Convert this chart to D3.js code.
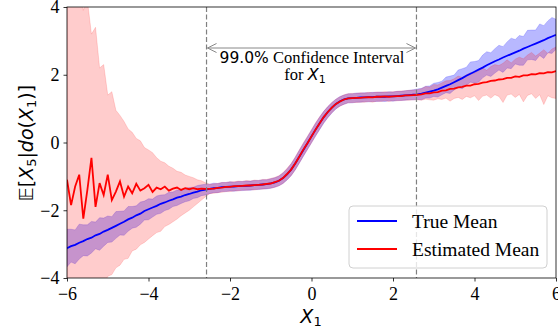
<!DOCTYPE html>
<html><head><meta charset="utf-8">
<script src="https://cdn.jsdelivr.net/npm/d3@7"></script>
<style>body{margin:0;background:#fff}svg{display:block}</style>
</head><body>
<svg id="c" width="558" height="330"></svg>
<script>
const xs = [-6.0,-5.9,-5.8,-5.7,-5.6,-5.5,-5.4,-5.3,-5.2,-5.1,-5.0,-4.9,-4.8,-4.7,-4.6,-4.5,-4.4,-4.3,-4.2,-4.1,-4.0,-3.9,-3.8,-3.7,-3.6,-3.5,-3.4,-3.3,-3.2,-3.1,-3.0,-2.9,-2.8,-2.7,-2.6,
-2.5,-2.4,-2.3,-2.2,-2.1,-2.0,-1.9,-1.8,-1.7,-1.6,-1.5,-1.4,-1.3,-1.2,-1.1,-1.0,-0.9,-0.8,-0.7,-0.6,-0.5,-0.4,-0.3,-0.2,-0.1,0.0,0.1,0.2,0.3,0.4,0.5,0.6,0.7,0.8,0.9,1.0,1.1,1.2,1.3,1.4,1.5,1.6,1.7,1.8,1.9,2.0,2.1,2.2,2.3,2.4,2.5,
2.6,2.7,2.8,2.9,3.0,3.1,3.2,3.3,3.4,3.5,3.6,3.7,3.8,3.9,4.0,4.1,4.2,4.3,4.4,4.5,4.6,4.7,4.8,4.9,5.0,5.1,5.2,5.3,5.4,5.5,5.6,5.7,5.8,5.9,6.0];

const trueMean = [-3.12,-3.06,-3.02,-2.96,-2.91,-2.85,-2.81,-2.74,-2.70,-2.63,-2.58,-2.52,-2.46,-2.40,-2.34,-2.27,-2.22,-2.15,-2.10,-2.02,-1.97,-1.92,-1.87,-1.81,-1.77,-1.72,-1.68,-1.63,-1.60,-1.55,-1.52,-1.48,-1.45,-1.41,-1.39,
-1.37,-1.35,-1.34,-1.32,-1.31,-1.30,-1.30,-1.29,-1.28,-1.28,-1.27,-1.26,-1.25,-1.24,-1.23,-1.21,-1.18,-1.13,-1.05,-0.94,-0.80,-0.62,-0.42,-0.22,-0.02,0.18,0.38,0.57,0.75,0.90,1.03,1.14,1.22,1.27,1.30,1.31,1.32,1.33,1.33,1.34,1.34,1.35,1.35,1.35,1.36,1.36,1.37,1.38,1.39,1.40,1.41,
1.42,1.44,1.47,1.50,1.53,1.57,1.62,1.67,1.72,1.78,1.84,1.90,1.97,2.03,2.09,2.15,2.21,2.28,2.34,2.40,2.45,2.51,2.56,2.61,2.66,2.71,2.77,2.82,2.87,2.92,2.97,3.02,3.08,3.13,3.18];

const trueHi = [-2.56,-2.56,-2.58,-2.41,-2.43,-2.43,-2.33,-2.35,-2.22,-2.23,-2.17,-2.19,-2.04,-2.03,-2.02,-1.89,-1.89,-1.87,-1.76,-1.73,-1.66,-1.67,-1.58,-1.55,-1.54,-1.47,-1.46,-1.40,-1.41,-1.35,-1.33,-1.32,-1.27,-1.25,-1.23,
-1.23,-1.20,-1.21,-1.18,-1.18,-1.16,-1.17,-1.15,-1.15,-1.14,-1.14,-1.12,-1.12,-1.10,-1.10,-1.07,-1.04,-0.99,-0.90,-0.78,-0.63,-0.44,-0.23,-0.03,0.17,0.37,0.57,0.75,0.92,1.06,1.18,1.28,1.36,1.40,1.44,1.44,1.46,1.46,1.47,1.47,1.48,1.48,1.49,1.48,1.50,1.49,1.51,1.51,1.53,1.54,1.56,
1.58,1.60,1.66,1.67,1.75,1.77,1.81,1.93,1.96,1.99,2.14,2.18,2.22,2.38,2.39,2.42,2.58,2.68,2.65,2.77,2.87,2.83,2.97,3.08,3.04,3.16,3.13,3.31,3.32,3.32,3.50,3.45,3.59,3.69,3.64];

const trueLo = [-3.67,-3.53,-3.58,-3.44,-3.34,-3.35,-3.26,-3.14,-3.18,-3.06,-2.95,-2.94,-2.83,-2.73,-2.74,-2.62,-2.53,-2.50,-2.41,-2.29,-2.28,-2.20,-2.12,-2.09,-2.01,-1.97,-1.89,-1.86,-1.80,-1.75,-1.72,-1.65,-1.63,-1.57,-1.55,
-1.51,-1.48,-1.48,-1.45,-1.45,-1.43,-1.44,-1.42,-1.42,-1.41,-1.41,-1.39,-1.39,-1.37,-1.37,-1.35,-1.32,-1.28,-1.21,-1.11,-0.98,-0.81,-0.61,-0.41,-0.21,-0.01,0.19,0.38,0.57,0.73,0.87,0.99,1.08,1.13,1.17,1.17,1.19,1.19,1.20,1.20,1.21,1.21,1.22,1.21,1.23,1.22,1.24,1.24,1.25,1.26,1.26,
1.27,1.26,1.31,1.31,1.36,1.34,1.41,1.47,1.45,1.55,1.62,1.59,1.69,1.78,1.76,1.78,1.91,1.99,1.95,2.05,2.14,2.07,2.20,2.18,2.32,2.28,2.28,2.44,2.45,2.42,2.57,2.48,2.65,2.63,2.75];

const estMean = [-1.10,-1.85,-1.30,-0.95,-2.25,-1.40,-0.45,-1.90,-1.20,-1.55,-0.95,-1.70,-1.45,-1.15,-1.60,-1.30,-1.50,-1.22,-1.42,-1.35,-1.25,-1.46,-1.33,-1.38,-1.30,-1.42,-1.36,-1.33,-1.40,-1.35,-1.38,-1.35,-1.38,-1.36,-1.37,
-1.37,-1.36,-1.34,-1.33,-1.31,-1.31,-1.29,-1.29,-1.28,-1.27,-1.27,-1.26,-1.25,-1.24,-1.22,-1.21,-1.17,-1.13,-1.05,-0.93,-0.80,-0.62,-0.42,-0.21,-0.02,0.18,0.38,0.57,0.75,0.90,1.03,1.14,1.21,1.27,1.30,1.31,1.32,1.32,1.33,1.34,1.33,1.35,1.35,1.36,1.35,1.36,1.37,1.37,1.39,1.39,1.40,
1.41,1.42,1.45,1.45,1.48,1.49,1.53,1.54,1.58,1.59,1.63,1.64,1.68,1.68,1.72,1.73,1.77,1.78,1.82,1.83,1.86,1.87,1.91,1.91,1.95,1.94,1.98,1.98,2.02,2.01,2.05,2.04,2.08,2.07,2.11];

const estHi = [6.0,5.3,4.4,5.4,3.9,4.2,3.2,3.4,2.2,2.3,1.4,1.5,0.95,0.80,0.62,0.40,0.30,0.12,0.05,-0.15,-0.22,-0.30,-0.45,-0.55,-0.60,-0.70,-0.76,-0.85,-0.88,-0.96,-1.00,-1.04,-1.10,-1.13,-1.19,
-1.23,-1.22,-1.21,-1.18,-1.18,-1.16,-1.16,-1.14,-1.15,-1.12,-1.14,-1.11,-1.12,-1.09,-1.09,-1.06,-1.03,-0.98,-0.89,-0.76,-0.62,-0.43,-0.22,-0.01,0.18,0.38,0.58,0.76,0.92,1.06,1.18,1.28,1.35,1.41,1.44,1.45,1.45,1.47,1.46,1.48,1.47,1.49,1.48,1.50,1.49,1.50,1.51,1.52,1.53,1.54,1.55,
1.56,1.59,1.65,1.64,1.71,1.70,1.76,1.82,1.83,1.88,1.96,1.92,2.00,2.06,2.05,2.12,2.20,2.13,2.24,2.30,2.27,2.34,2.44,2.35,2.46,2.52,2.47,2.58,2.66,2.55,2.64,2.74,2.63,2.76,2.82];

const estLo = [-5.8,-5.3,-5.7,-4.9,-5.3,-4.7,-4.6,-4.5,-4.2,-4.25,-3.95,-3.9,-3.7,-3.62,-3.45,-3.42,-3.2,-3.15,-3.02,-2.95,-2.85,-2.75,-2.66,-2.62,-2.48,-2.42,-2.34,-2.26,-2.16,-2.08,-2.0,-1.9,-1.8,-1.7,-1.6,
-1.51,-1.50,-1.48,-1.47,-1.45,-1.45,-1.43,-1.43,-1.41,-1.41,-1.40,-1.40,-1.38,-1.38,-1.36,-1.35,-1.32,-1.28,-1.21,-1.10,-0.98,-0.81,-0.61,-0.40,-0.21,-0.01,0.19,0.39,0.58,0.74,0.88,1.00,1.07,1.13,1.17,1.18,1.18,1.19,1.19,1.21,1.19,1.22,1.21,1.23,1.21,1.23,1.23,1.24,1.25,1.25,1.26,
1.26,1.25,1.28,1.26,1.25,1.29,1.27,1.31,1.22,1.30,1.33,1.27,1.36,1.32,1.38,1.24,1.37,1.40,1.31,1.41,1.36,1.18,1.40,1.43,1.33,1.42,1.20,1.39,1.44,1.30,1.41,1.12,1.38,1.32,1.30];

const xTicks = [-6,-4,-2,0,2,4,6];
const yTicks = [-4,-2,0,2,4];
const ciBounds = [-2.576, 2.576];
const legendLabels = ["True Mean","Estimated Mean"];

const svg = d3.select("#c");
const L=67, R=556, T=7, B=278;
const x = d3.scaleLinear().domain([-6,6]).range([L,R]);
const y = d3.scaleLinear().domain([-4,4]).range([B,T]);

const defs = svg.append("defs");
defs.append("clipPath").attr("id","clip")
  .append("rect").attr("x",L).attr("y",T).attr("width",R-L).attr("height",B-T);

const data = xs.map((v,i)=>({x:v,tm:trueMean[i],th:trueHi[i],tl:trueLo[i],em:estMean[i],eh:estHi[i],el:estLo[i]}));
const g = svg.append("g").attr("clip-path","url(#clip)");

const areaT = d3.area().x(d=>x(d.x)).y0(d=>y(d.tl)).y1(d=>y(d.th));
const areaE = d3.area().x(d=>x(d.x)).y0(d=>y(d.el)).y1(d=>y(d.eh));
g.append("path").datum(data).attr("d",areaT).attr("fill","rgba(0,0,255,0.28)").attr("stroke","rgba(0,0,255,0.22)").attr("stroke-width",0.8);
g.append("path").datum(data).attr("d",areaE).attr("fill","rgba(255,0,0,0.2)").attr("stroke","rgba(255,0,0,0.18)").attr("stroke-width",0.8);

g.append("path").datum(data).attr("d",d3.line().x(d=>x(d.x)).y(d=>y(d.tm)))
  .attr("fill","none").attr("stroke","#0000ff").attr("stroke-width",1.8);
g.append("path").datum(data).attr("d",d3.line().x(d=>x(d.x)).y(d=>y(d.em)))
  .attr("fill","none").attr("stroke","#ff0000").attr("stroke-width",1.8);

ciBounds.forEach(b=>{
  svg.append("line").attr("x1",x(b)).attr("x2",x(b)).attr("y1",T).attr("y2",B)
    .attr("stroke","#808080").attr("stroke-width",1.2).attr("stroke-dasharray","5,2.5");
});

svg.append("rect").attr("x",L).attr("y",T).attr("width",R-L).attr("height",B-T)
  .attr("fill","none").attr("stroke","#000").attr("stroke-width",0.8);

const xAxis = svg.append("g").attr("transform",`translate(0,${B})`)
  .call(d3.axisBottom(x).tickValues(xTicks).tickSize(3.5).tickPadding(4).tickFormat(d3.format("d")));
const yAxis = svg.append("g").attr("transform",`translate(${L},0)`)
  .call(d3.axisLeft(y).tickValues(yTicks).tickSize(3.5).tickPadding(4).tickFormat(d3.format("d")));
[xAxis,yAxis].forEach(a=>{
  a.select(".domain").remove();
  a.selectAll("line").attr("stroke","#000").attr("stroke-width",0.8);
  a.selectAll("text").attr("font-family","'Liberation Serif',serif").attr("font-size",18).attr("fill","#000");
});
xAxis.selectAll("text").attr("dy","0.8em");
yAxis.selectAll("text").attr("dy","0.33em");

const ay = 48;
const ax0 = x(ciBounds[0])+1, ax1 = x(ciBounds[1])-1;
svg.append("line").attr("x1",ax0).attr("x2",ax1).attr("y1",ay).attr("y2",ay).attr("stroke","#888").attr("stroke-width",1);
svg.append("path").attr("d",`M${ax0+9},${ay-4.5} L${ax0},${ay} L${ax0+9},${ay+4.5}`).attr("fill","none").attr("stroke","#888").attr("stroke-width",1);
svg.append("path").attr("d",`M${ax1-9},${ay-4.5} L${ax1},${ay} L${ax1-9},${ay+4.5}`).attr("fill","none").attr("stroke","#888").attr("stroke-width",1);

const t1 = svg.append("text").attr("x",312).attr("y",63).attr("text-anchor","middle").attr("font-size",16.5).attr("font-family","'Liberation Serif',serif");
t1.append("tspan").attr("font-family","'DejaVu Sans',sans-serif").attr("font-size",15.5).text("99.0%");
t1.append("tspan").text(" Confidence Interval");
const t2 = svg.append("text").attr("x",305).attr("y",80).attr("text-anchor","middle").attr("font-size",16.5).attr("font-family","'Liberation Serif',serif");
t2.append("tspan").text("for ");
t2.append("tspan").attr("font-family","'DejaVu Sans',sans-serif").attr("font-style","italic").attr("font-size",16).text("X");
t2.append("tspan").attr("font-family","'DejaVu Sans',sans-serif").attr("font-size",11).attr("dy",3).text("1");

const xl = svg.append("text").attr("x",311).attr("y",323).attr("text-anchor","middle").attr("font-family","'DejaVu Sans',sans-serif").attr("font-size",19);
xl.append("tspan").attr("font-style","italic").text("X");
xl.append("tspan").attr("font-size",13).attr("dy",3).text("1");

const yl = svg.append("text").attr("transform","translate(33,143) rotate(-90)").attr("text-anchor","middle").attr("font-family","'DejaVu Sans',sans-serif").attr("font-size",19);
yl.append("tspan").text("𝔼[");
yl.append("tspan").attr("font-style","italic").text("X");
yl.append("tspan").attr("font-size",13).attr("dy",3).text("5");
yl.append("tspan").attr("dy",-3).text("|");
yl.append("tspan").attr("font-style","italic").text("do");
yl.append("tspan").text("(");
yl.append("tspan").attr("font-style","italic").text("X");
yl.append("tspan").attr("font-size",13).attr("dy",3).text("1");
yl.append("tspan").attr("dy",-3).text(")]");

const lg = svg.append("g");
lg.append("rect").attr("x",349).attr("y",206).attr("width",198).attr("height",62).attr("rx",4)
  .attr("fill","rgba(255,255,255,0.8)").attr("stroke","#d0d0d0").attr("stroke-width",1);
const lcol = ["#0000ff","#ff0000"];
legendLabels.forEach((lab,i)=>{
  const yy = 221 + i*28;
  lg.append("line").attr("x1",357).attr("x2",397).attr("y1",yy).attr("y2",yy).attr("stroke",lcol[i]).attr("stroke-width",2);
  lg.append("text").attr("x",412).attr("y",yy+7.3).attr("font-family","'Liberation Serif',serif").attr("font-size",19.5).attr("fill","#000").text(lab);
});
</script>
</body></html>
